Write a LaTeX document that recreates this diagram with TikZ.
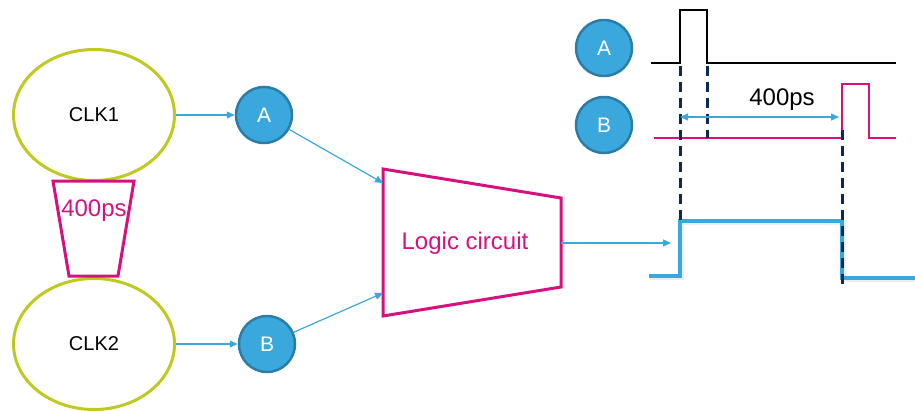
\documentclass[tikz,border=0pt]{standalone}
\usepackage{fontspec}
\setmainfont{Liberation Sans}
\usetikzlibrary{arrows.meta, positioning, shapes.geometric}

\definecolor{clkgreen}{HTML}{BFC920}
\definecolor{logicpink}{HTML}{D6117D}
\definecolor{sigblue}{HTML}{3AA8DC}
\definecolor{sigedge}{HTML}{2B7CA6}
\definecolor{darknavy}{HTML}{0B2A55}

\begin{document}
\begin{tikzpicture}[
        x=1pt, y=-1pt,
        clk/.style={
            ellipse,
            draw=clkgreen,
            line width=3pt,
            minimum width=161pt,
            minimum height=131pt,
            inner sep=0pt,
            font=\fontsize{20}{24}\selectfont
        },
        sig/.style={
            circle,
            fill=sigblue,
            draw=sigedge,
            line width=2.5pt,
            minimum size=56pt,
            inner sep=0pt,
            text=white,
            font=\fontsize{21}{24}\selectfont
        },
        conn/.style={
            -{Triangle[length=8pt,width=7pt]},
            draw=sigblue,
            line width=1.2pt
        },
        pinkline/.style={
            draw=logicpink,
            line width=3pt,
            line join=miter
        },
        marker/.style={
            draw=darknavy,
            line width=3pt,
            dash pattern=on 10pt off 6pt
        },
        bigtext/.style={
            font=\fontsize{24}{28}\selectfont
        }
    ]

    \useasboundingbox (0,0) rectangle (915,410);

    % clocks and their signals
    \node[clk] (clk1) at (94,115) {CLK1};
    \node[clk] (clk2) at (94,344) {CLK2};

    \node[sig] (a) at (264,115) {A};
    \node[sig] (b) at (267,344) {B};

    % skew between the clocks
    \draw[pinkline] (53,181) -- (134,181) -- (118,276) -- (69,276) -- cycle;
    \node[bigtext, text=logicpink] (skew) at (94,211) {400ps};

    % logic block
    \draw[pinkline] (383,169) -- (561,198) -- (561,287) -- (383,316) -- cycle;
    \node[bigtext, text=logicpink] (logic) at (465,243) {Logic circuit};
    \coordinate (inA) at (383,183);
    \coordinate (inB) at (383,293);
    \coordinate (out) at (561,243);
    \coordinate (wave) at (671,243);

    \draw[conn] (clk1) -- (a);
    \draw[conn] (clk2) -- (b);
    \draw[conn] (a) -- (inA);
    \draw[conn] (b) -- (inB);
    \draw[conn] (out) -- (wave);

    % timing diagram
    \node[sig] (ta) at (604,48) {A};
    \node[sig] (tb) at (604,125) {B};

    \draw[black, line width=2.5pt]
        (651,63) -- (680,63) -- (680,10) -- (707,10) -- (707,63) -- (896,63);
    \draw[logicpink, line width=2.5pt]
        (654,138) -- (842,138) -- (842,84) -- (869,84) -- (869,138) -- (896,138);
    \draw[gray, opacity=0.15, line width=5pt]
        (650,277) -- (681,277) -- (681,222) -- (843,222) -- (843,279) -- (915,279);
    \draw[sigblue, line width=4.5pt]
        (649,276) -- (680,276) -- (680,221) -- (842,221) -- (842,278) -- (915,278);

    \draw[marker] (680,66) -- (680,221);
    \draw[marker] (707,66) -- (707,138);
    \draw[marker] (842,130) -- (842,286);

    \coordinate (gapL) at (680,117);
    \coordinate (gapR) at (839,117);
    \draw[conn, {Triangle[length=8pt,width=7pt]}-{Triangle[length=8pt,width=7pt]}] (gapL) -- (gapR);
    \node[bigtext] (gap) at (782,100) {400ps};

\end{tikzpicture}
\end{document}
